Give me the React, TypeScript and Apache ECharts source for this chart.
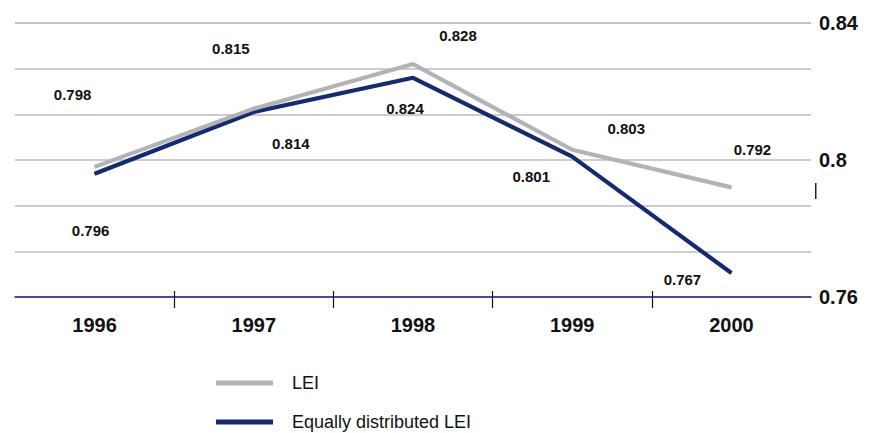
import React, { useEffect, useRef } from "react";
import * as echarts from "echarts";

const categories = ["1996", "1997", "1998", "1999", "2000"];
const leiValues = [0.798, 0.815, 0.828, 0.803, 0.792];
const eqLeiValues = [0.796, 0.814, 0.824, 0.801, 0.767];
const seriesNames = ["LEI", "Equally distributed LEI"];
const yMin = 0.76;
const yMax = 0.84;
const yLabelStep = 0.04;

// label placement offsets (px), kept apart from the values
const leiLabelOffsets = [[-22, -72], [-23, -60], [45, -29], [54, -21], [21, -38]];
const eqLabelOffsets = [[-4, 57], [37, 31], [-8, 31], [-41, 20], [-49, 6]];

const FONT = "'Liberation Sans', Arial, sans-serif";
const GREY = "#b3b3b7";
const NAVY = "#152a6f";

export default function App() {
  const ref = useRef<HTMLDivElement>(null);
  useEffect(() => {
    if (!ref.current) return;
    const chart = echarts.init(ref.current, null, { renderer: "svg" });
    const labelBase = {
      show: true,
      position: "inside",
      fontFamily: FONT,
      fontSize: 15,
      fontWeight: "bold",
      color: "#111",
    };
    const mk = (vals: number[], offs: number[][]) =>
      vals.map((v, i) => ({ value: v, label: { offset: offs[i] } }));
    chart.setOption({
      animation: false,
      backgroundColor: "#fff",
      grid: { left: 15, right: 65, top: 23, bottom: 136, containLabel: false },
      legend: {
        orient: "vertical",
        left: 216,
        top: 373,
        height: 60,
        padding: 0,
        icon: "rect",
        itemWidth: 57,
        itemHeight: 5,
        itemGap: 19,
        data: seriesNames,
        textStyle: {
          fontFamily: FONT,
          fontSize: 18,
          color: "#111",
          lineHeight: 20,
          padding: [0, 0, 0, 14],
        },
      },
      xAxis: [
        {
          type: "category",
          data: categories,
          boundaryGap: true,
          position: "bottom",
          axisLine: { show: false },
          axisTick: { show: false },
          axisLabel: {
            fontFamily: FONT,
            fontSize: 20,
            fontWeight: "bold",
            color: "#111",
            margin: 18,
          },
          splitLine: { show: false },
        },
        {
          type: "value",
          min: 0,
          max: categories.length,
          position: "bottom",
          axisLine: { show: true, lineStyle: { color: NAVY, width: 1.5 } },
          axisTick: {
            show: true,
            customValues: [1, 2, 3, 4],
            length: 11,
            lineStyle: { color: "#111", width: 1.2 },
          },
          axisLabel: { show: false },
          splitLine: { show: false },
        },
        {
          type: "value",
          min: 0,
          max: categories.length,
          position: "bottom",
          axisLine: { show: false },
          axisTick: {
            show: true,
            inside: true,
            customValues: [1, 2, 3, 4],
            length: 6,
            lineStyle: { color: "#111", width: 1.2 },
          },
          axisLabel: { show: false },
          splitLine: { show: false },
        },
      ],
      yAxis: {
        type: "value",
        position: "right",
        min: yMin,
        max: yMax,
        interval: (yMax - yMin) / 6,
        axisLine: { show: false },
        axisTick: { show: false },
        axisLabel: {
          fontFamily: FONT,
          fontSize: 20,
          fontWeight: "bold",
          color: "#111",
          margin: 8,
          formatter: (v: number) => {
            const r = v / yLabelStep;
            return Math.abs(r - Math.round(r)) < 1e-6 ? String(+v.toFixed(2)) : "";
          },
        },
        splitLine: { show: true, lineStyle: { color: "#bdbdbd", width: 1.5 } },
      },
      series: [
        {
          name: seriesNames[0],
          type: "line",
          xAxisIndex: 0,
          z: 3,
          data: mk(leiValues, leiLabelOffsets),
          symbol: "circle",
          symbolSize: 1,
          itemStyle: { color: GREY },
          lineStyle: { color: GREY, width: 4.2 },
          label: labelBase,
        },
        {
          name: seriesNames[1],
          type: "line",
          xAxisIndex: 0,
          z: 2,
          data: mk(eqLeiValues, eqLabelOffsets),
          symbol: "circle",
          symbolSize: 1,
          itemStyle: { color: NAVY },
          lineStyle: { color: NAVY, width: 4.2 },
          label: labelBase,
        },
      ],
      graphic: [
        {
          type: "rect",
          left: 815,
          top: 183,
          shape: { width: 1.5, height: 16 },
          style: { fill: "#222" },
        },
      ],
    });
    return () => chart.dispose();
  }, []);
  return (
    <div
      ref={ref}
      style={{ position: "fixed", left: 0, top: 0, width: 876, height: 433 }}
    />
  );
}
